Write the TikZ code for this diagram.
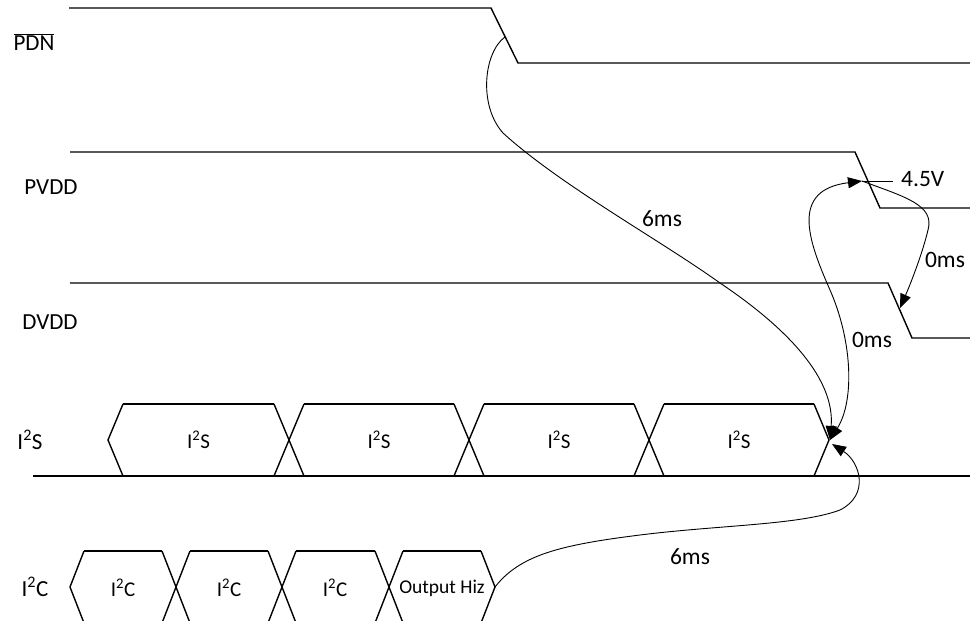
\documentclass[tikz,border=0pt]{standalone}
\usepackage{fontspec}
\setmainfont{Carlito}
\usetikzlibrary{arrows.meta}
\begin{document}
\begin{tikzpicture}[x=1pt,y=-1pt,
  sig/.style={line width=1.4pt,line join=miter},
  conn/.style={line width=0.9pt},
  arrowend/.style={-{Triangle[length=14pt,width=11pt]}},
  arrowboth/.style={{Triangle[length=14pt,width=11pt]}-{Triangle[length=14pt,width=11pt]}},
  lblout/.style={font=\fontsize{23}{27}\selectfont,inner sep=0pt},
  lblin/.style={font=\fontsize{21}{25}\selectfont,inner sep=0pt},
  lblsmall/.style={font=\fontsize{19.5}{23}\selectfont,inner sep=0pt},
  lblms/.style={font=\fontsize{23.5}{27}\selectfont,inner sep=0pt}]
\useasboundingbox (0,0) rectangle (970,621);
\clip (0,0) rectangle (970,621);

% signal labels
\node[lblout] (lpdn) at (34,42) {$\overline{\hbox{PDN}}$};
\node[lblout] (lpvdd) at (51,187) {PVDD};
\node[lblout] (ldvdd) at (50,322) {DVDD};
\node[lblout] (li2s) at (30,440) {I\textsuperscript{2}S};
\node[lblout] (li2c) at (35,587) {I\textsuperscript{2}C};

% PDN, PVDD, DVDD waveforms
\draw[sig] (69,8) -- (491,8) -- (518,63) -- (970,63);
\draw[sig] (70,152) -- (855,152) -- (880,208) -- (970,208);
\draw[sig] (70,283) -- (888,283) -- (912,338) -- (970,338);

% I2S bus
\draw[sig] (33,476) -- (970,476);
\draw[sig] (123,476) -- (108,440) -- (123,404);
\draw[sig] (814,404) -- (829,440) -- (814,476);
\foreach \c in {289,469,649} {
  \draw[sig] (\c-15,404) -- (\c+15,476) (\c-15,476) -- (\c+15,404);
}
\foreach \a/\b [count=\i] in {108/289,289/469,469/649,649/829} {
  \draw[sig] (\a+15,404) -- (\b-15,404);
  \node[lblin] (s\i) at ({(\a+\b)/2},440) {I\textsuperscript{2}S};
}

% I2C bus
\draw[sig] (84,623) -- (70,587) -- (84,551);
\draw[sig] (481,551) -- (495,587) -- (481,623);
\foreach \c in {176,282,389} {
  \draw[sig] (\c-14,551) -- (\c+14,623) (\c-14,623) -- (\c+14,551);
}
\foreach \a/\b in {70/176,176/282,282/389,389/495} {
  \draw[sig] (\a+14,551) -- (\b-14,551);
  \draw[sig] (\a+14,623) -- (\b-14,623);
}
\node[lblin] (c1) at (123,588) {I\textsuperscript{2}C};
\node[lblin] (c2) at (229,588) {I\textsuperscript{2}C};
\node[lblin] (c3) at (335,588) {I\textsuperscript{2}C};
\node[lblsmall] (hiz) at (442,588) {Output Hiz};

% anchor points
\coordinate (pdnE) at (505,37);
\coordinate (i2sP) at (830,440);
\coordinate (i2sQ) at (832,444);
\coordinate (pvddE) at (862,181);
\coordinate (vmark) at (893,181);
\coordinate (dvddE) at (900,308);
\coordinate (hizP) at (495,587);

% connectors
\draw[conn,arrowend] (pdnE) .. controls (484,52) and (478,105) .. (503,133)
  .. controls (560,185) and (660,240) .. (720,283)
  .. controls (790,330) and (835,380) .. (i2sP);
\draw[conn,arrowboth] (i2sP) .. controls (855,400) and (852,340) .. (830,290)
  .. controls (808,240) and (790,190) .. (pvddE);
\draw[conn] (pvddE) -- (vmark);
\draw[conn,arrowend] (pvddE) .. controls (905,197) and (935,205) .. (928,230)
  .. controls (922,255) and (910,285) .. (dvddE);
\draw[conn,arrowend] (hizP) .. controls (520,555) and (560,545) .. (640,535)
  .. controls (720,525) and (800,525) .. (840,510)
  .. controls (870,495) and (860,462) .. (i2sQ);

% timing labels
\node[lblms,anchor=west] (v45) at (901,179) {4.5V};
\node[lblms] (t1) at (662,219) {6ms};
\node[lblms] (t2) at (945,260) {0ms};
\node[lblms] (t3) at (872,340) {0ms};
\node[lblms] (t4) at (690,557) {6ms};
\end{tikzpicture}
\end{document}
